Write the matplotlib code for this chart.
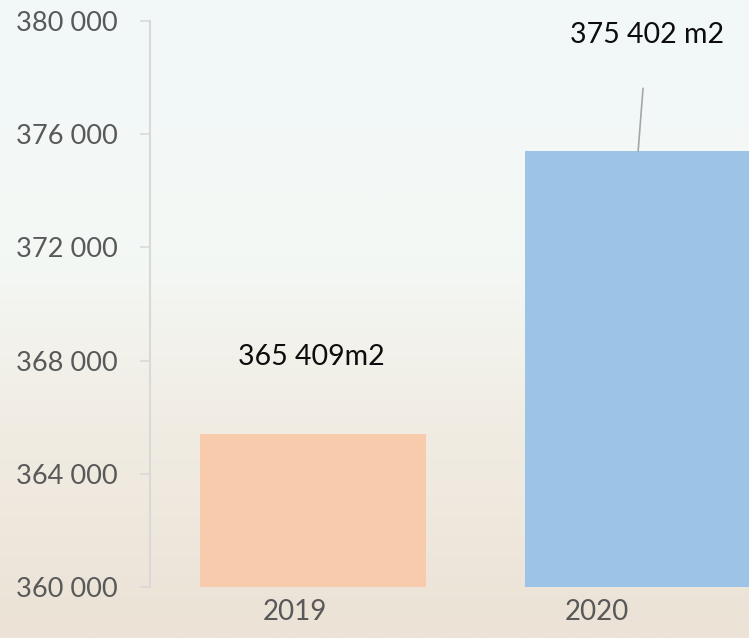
import numpy as np
import matplotlib
matplotlib.use('Agg')
import matplotlib.pyplot as plt
from matplotlib.colors import LinearSegmentedColormap

# 数据
years = ['2019', '2020']
areas = [365409, 375402]
value_labels = ['365 409m2', '375 402 m2']
y_ticks = [360000, 364000, 368000, 372000, 376000, 380000]
y_tick_labels = ['360 000', '364 000', '368 000', '372 000', '376 000', '380 000']

bar_colors = ['#f8cbad', '#9dc3e6']
tick_color = '#595959'
spine_color = '#d9d9d9'

plt.rcParams['font.family'] = ['Lato', 'DejaVu Sans']

W, H = 749, 638
fig = plt.figure(figsize=(W / 100, H / 100), dpi=100)

# 背景渐变（上浅青白 -> 下米色）
bg = fig.add_axes([0, 0, 1, 1], zorder=-10)
grad_cmap = LinearSegmentedColormap.from_list(
    'bg', [(0.0, '#f2f8f9'), (0.4, '#f4f8f5'), (0.65, '#f1ede4'), (1.0, '#ece2d6')])
bg.imshow(np.linspace(0, 1, 256).reshape(-1, 1), aspect='auto', cmap=grad_cmap,
          extent=[0, 1, 0, 1], origin='upper')
bg.axis('off')

# 坐标区
ax = fig.add_axes([150 / W, (H - 587) / H, (W - 150) / W, (587 - 21) / H])
ax.patch.set_alpha(0)
ax.set_xlim(-0.480, 1.503)
ax.set_ylim(y_ticks[0], y_ticks[-1])

x = np.arange(len(years))
bar_left = [-0.315, -0.238]
bar_width = 0.748
for i in range(len(years)):
    ax.bar(x[i] + bar_left[i], areas[i] - y_ticks[0], bottom=y_ticks[0],
           width=bar_width, align='edge', color=bar_colors[i], clip_on=True)

# 数值标签
ax.annotate(value_labels[0], xy=(x[0], areas[0]), xytext=(12, 55.5),
            textcoords='offset points', ha='center', va='center',
            fontsize=20.5, color='#0d0d0d')
ax.annotate(value_labels[1], xy=(x[1] + 0.136, areas[1]), xytext=(6.5, 83.5),
            textcoords='offset points', ha='center', va='center',
            fontsize=20.5, color='#0d0d0d', annotation_clip=False,
            arrowprops=dict(arrowstyle='-', color='#a6a6a6', lw=1.2,
                            shrinkA=27, shrinkB=0))

# 坐标轴样式
ax.set_yticks(y_ticks)
ax.set_yticklabels(y_tick_labels)
ax.set_xticks(x)
ax.set_xticklabels(years)
ax.tick_params(axis='y', length=7, width=1.2, color=spine_color, pad=16,
               labelsize=19.5, labelcolor=tick_color)
ax.tick_params(axis='x', length=0, pad=9, labelsize=20, labelcolor=tick_color)
for s in ['top', 'right', 'bottom']:
    ax.spines[s].set_visible(False)
ax.spines['left'].set_color(spine_color)
ax.spines['left'].set_linewidth(1.5)

fig.savefig('out.png', dpi=100)
